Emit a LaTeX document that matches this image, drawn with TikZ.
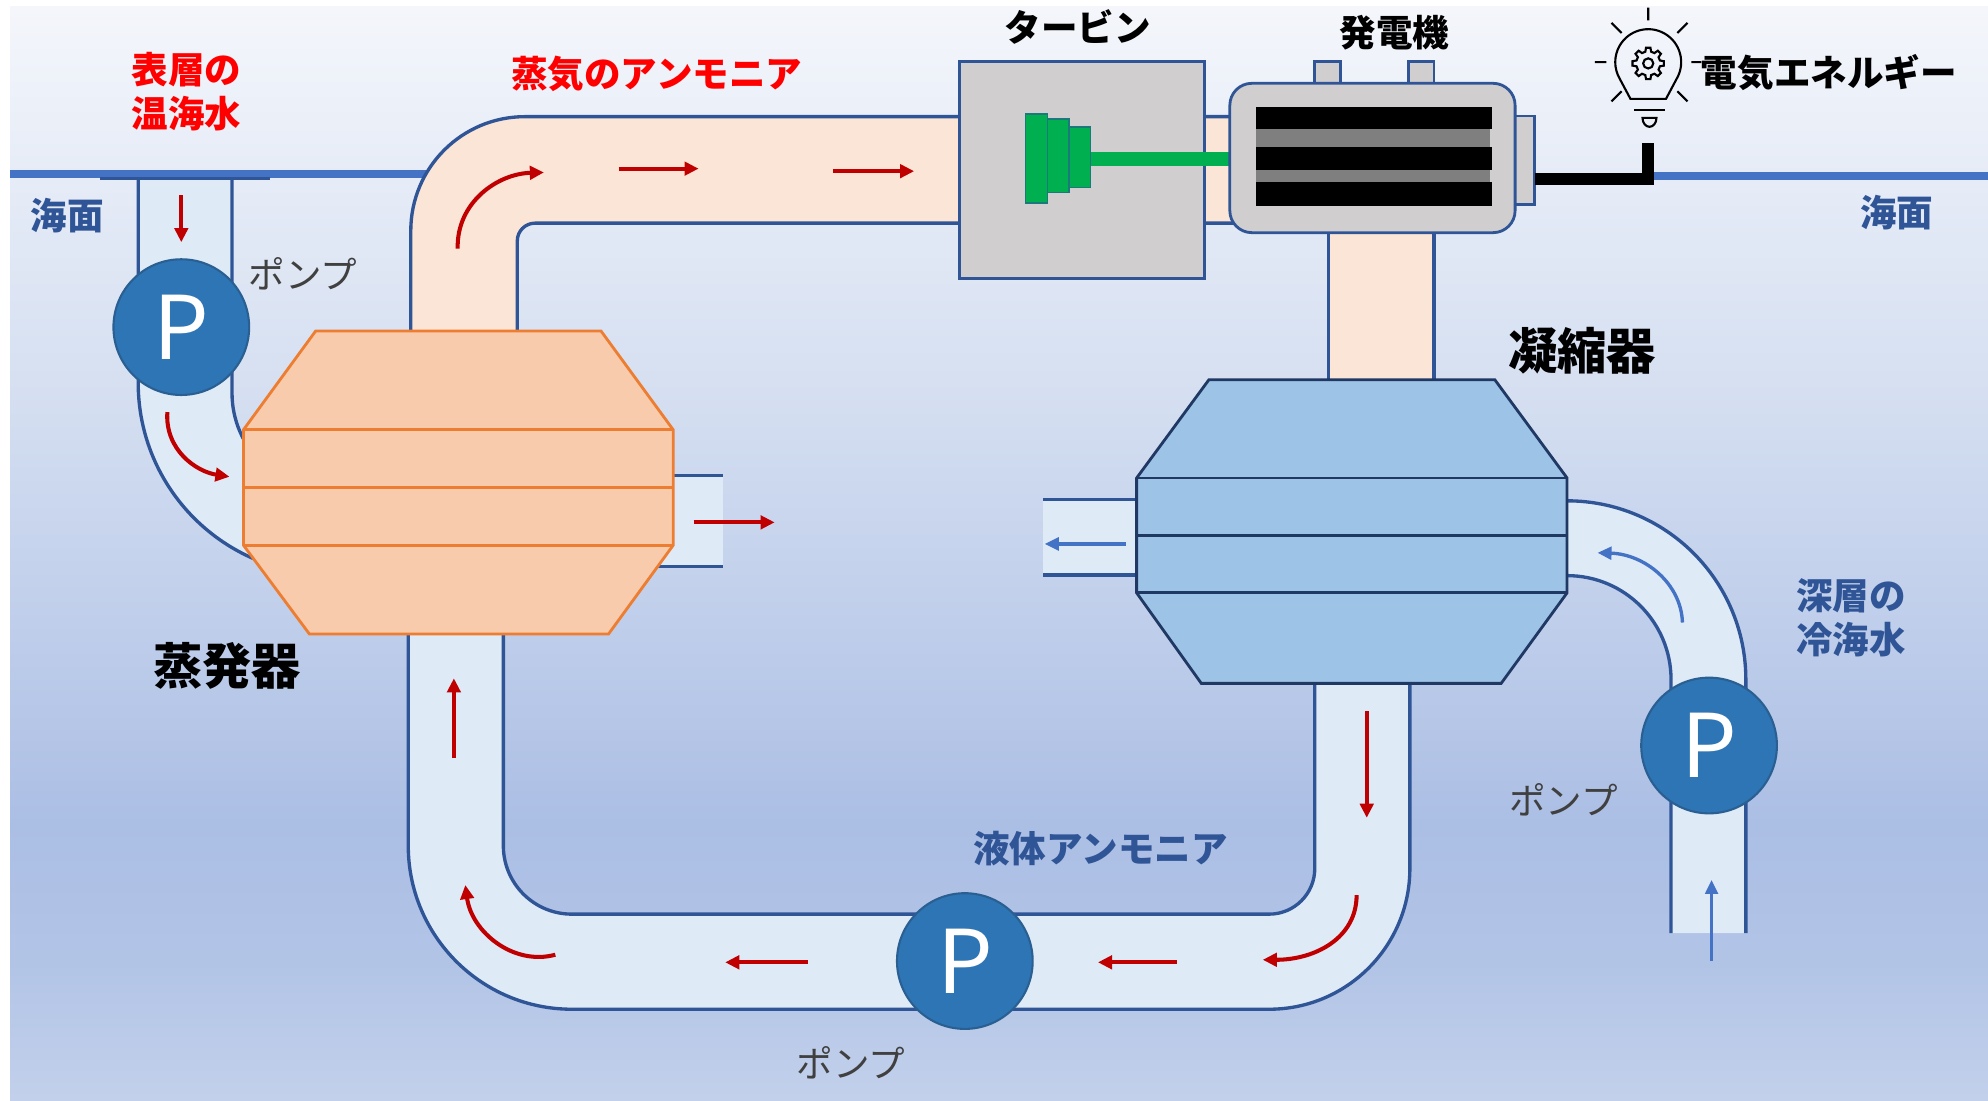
\documentclass[tikz,border=0pt]{standalone}
\usepackage{fontspec}
\setmainfont{Noto Sans CJK JP}
\usetikzlibrary{arrows.meta}

\definecolor{pipeblue}{HTML}{2F5597}
\definecolor{pipelight}{HTML}{DEEAF6}
\definecolor{steampeach}{HTML}{FBE5D6}
\definecolor{seablue}{HTML}{4472C4}
\definecolor{evapfill}{HTML}{F8CBAD}
\definecolor{evapline}{HTML}{ED7D31}
\definecolor{condfill}{HTML}{9DC3E6}
\definecolor{condline}{HTML}{203864}
\definecolor{pumpfill}{HTML}{2E75B6}
\definecolor{pumpline}{HTML}{2A5F92}
\definecolor{machgray}{HTML}{D0CECE}
\definecolor{rotorgreen}{HTML}{00B050}
\definecolor{bandgray}{HTML}{7F7F7F}
\definecolor{flowred}{HTML}{C00000}
\definecolor{labelred}{HTML}{FF0000}
\definecolor{labelblue}{HTML}{2F5597}
\definecolor{pumptext}{HTML}{404040}

% sky-to-deep-sea background
\pgfdeclareverticalshading{seabg}{100bp}{%
  rgb(0bp)=(0.761,0.816,0.922);
  rgb(25bp)=(0.761,0.816,0.922);
  rgb(31.3bp)=(0.698,0.769,0.902);
  rgb(37.6bp)=(0.671,0.745,0.894);
  rgb(46.3bp)=(0.745,0.804,0.918);
  rgb(57.9bp)=(0.839,0.878,0.945);
  rgb(67.4bp)=(0.902,0.925,0.969);
  rgb(75bp)=(0.957,0.965,0.984);
  rgb(100bp)=(0.957,0.965,0.984)}

\newcommand{\lblsz}{\fontsize{10.4pt}{12.6pt}\selectfont}
\newcommand{\bigsz}{\fontsize{14pt}{16pt}\selectfont}
\newcommand{\psz}{\fontsize{25pt}{25pt}\selectfont}

\begin{document}
\begin{tikzpicture}[x=0.01268cm, y=-0.01268cm,
  pipeedge/.style={draw=pipeblue, line width=0.95pt},
  coolfill/.style={fill=pipelight},
  hotfill/.style={fill=steampeach},
  sealine/.style={draw=seablue, line width=2.2pt},
  exchangerA/.style={fill=evapfill, draw=evapline, line width=0.8pt},
  exchangerB/.style={fill=condfill, draw=condline, line width=0.8pt},
  machine/.style={fill=machgray, draw=pipeblue, line width=0.8pt},
  rotor/.style={fill=rotorgreen, draw=pipeblue!60!rotorgreen, line width=0.4pt},
  pump/.style={circle, fill=pumpfill, draw=pumpline, line width=0.6pt,
    minimum size=1.357cm, inner sep=0pt, text=white, font=\psz},
  redflow/.style={draw=flowred, line width=1.15pt, -{Triangle[length=4pt,width=3.8pt]}},
  blueflow/.style={draw=seablue, line width=0.95pt, -{Triangle[length=4pt,width=3.6pt]}},
  redlbl/.style={text=labelred, font=\lblsz\bfseries, inner sep=0pt, align=center},
  bluelbl/.style={text=labelblue, font=\lblsz\bfseries, inner sep=0pt, align=center},
  blacklbl/.style={text=black, font=\lblsz\bfseries, inner sep=0pt},
  biglbl/.style={text=black, font=\bigsz\bfseries, inner sep=0pt},
  pumplbl/.style={text=pumptext, font=\lblsz, inner sep=0pt},
  bulb/.style={draw=black, line width=0.6pt},
]
\useasboundingbox (0,0) rectangle (1568,868);
\fill[white] (0,0) rectangle (1568,868);
\shade[shading=seabg] (8,5.5) rectangle (1568,868);

% ---- warm surface water intake ----
\fill[coolfill] (109,137) -- (109,302) arc[start angle=180,end angle=90,radius=151]
  -- (260,387) arc[start angle=90,end angle=180,radius=77] -- (183,137) -- cycle;
\draw[pipeedge] (109,137) -- (109,302) arc[start angle=180,end angle=90,radius=151];
\draw[pipeedge] (183,137) -- (183,310) arc[start angle=180,end angle=90,radius=77];

% warm water outlet
\fill[coolfill] (505,375) rectangle (570,447);
\draw[pipeedge] (520,375) -- (570,375) (510,447) -- (570,447);

% sea surface
\draw[sealine] (8,137.5) -- (345,137.5);
\draw[pipeedge] (79,141) -- (213,141);
\draw[sealine] (1300,139) -- (1568,139);

% ---- ammonia vapour line ----
\fill[hotfill] (324,261) -- (324,182) arc[start angle=180,end angle=270,radius=90]
  -- (980,92) -- (980,176) -- (422,176) arc[start angle=270,end angle=180,radius=14]
  -- (408,261) -- cycle;
\draw[pipeedge] (324,261) -- (324,182) arc[start angle=180,end angle=270,radius=90] -- (975,92);
\draw[pipeedge] (408,261) -- (408,190) arc[start angle=180,end angle=270,radius=14] -- (975,176);

\fill[hotfill] (1048,175) rectangle (1131,305);
\draw[pipeedge] (1048,180) -- (1048,300) (1131,180) -- (1131,300);

% ---- liquid ammonia loop ----
\fill[coolfill] (322,495) -- (322,667) arc[start angle=180,end angle=90,radius=129]
  -- (1001,796) arc[start angle=90,end angle=0,radius=111] -- (1112,535) -- (1037,535)
  -- (1037,685) arc[start angle=0,end angle=90,radius=36] -- (451,721)
  arc[start angle=90,end angle=180,radius=54] -- (397,495) -- cycle;
\draw[pipeedge] (322,500) -- (322,667) arc[start angle=180,end angle=90,radius=129]
  -- (1001,796) arc[start angle=90,end angle=0,radius=111] -- (1112,539);
\draw[pipeedge] (1037,539) -- (1037,685) arc[start angle=0,end angle=90,radius=36]
  -- (451,721) arc[start angle=90,end angle=180,radius=54] -- (397,500);

% ---- cold deep water ----
\fill[coolfill] (1230,395) -- (1236,395) arc[start angle=270,end angle=360,radius=141]
  -- (1377,736) -- (1318,736) -- (1318,536) arc[start angle=0,end angle=-90,radius=82]
  -- (1230,454) -- cycle;
\draw[pipeedge] (1236,395) arc[start angle=270,end angle=360,radius=141] -- (1377,736);
\draw[pipeedge] (1236,454) arc[start angle=270,end angle=360,radius=82] -- (1318,736);

\fill[coolfill] (823,394) rectangle (905,453.5);
\draw[pipeedge] (823,394) -- (897,394) (823,453.5) -- (897,453.5);

% ---- evaporator ----
\draw[exchangerA] (249,261) -- (474,261) -- (531,339) -- (531,430) -- (480,500)
  -- (244,500) -- (192,430) -- (192,339) -- cycle;
\draw[draw=evapline, line width=0.8pt] (192,339) -- (531,339) (192,384.5) -- (531,384.5)
  (192,430) -- (531,430);

% ---- condenser ----
\draw[exchangerB] (953.5,299.5) -- (1179,299.5) -- (1236,377) -- (1236,467.6) -- (1184,539)
  -- (947.5,539) -- (896.5,467.6) -- (896.5,377) -- cycle;
\draw[draw=condline, line width=0.8pt] (896.5,377) -- (1236,377) (896.5,422.6) -- (1236,422.6)
  (896.5,467.6) -- (1236,467.6);

% ---- turbine ----
\draw[machine] (757,48.6) rectangle (950,219.5);
\fill[rotorgreen] (858,120) rectangle (972,131);
\draw[rotor] (809,90) rectangle (826,160);
\draw[rotor] (826,94) rectangle (843,152);
\draw[rotor] (843,100) rectangle (860,148);

% ---- generator ----
\draw[machine] (1037,48.6) rectangle (1057,67);
\draw[machine] (1111,48.6) rectangle (1131,67);
\draw[machine] (1190,91.5) rectangle (1210.6,161);
\draw[machine, rounded corners=0.22cm] (970,65.7) rectangle (1195,183.5);
\fill[bandgray] (991,100) rectangle (1175,146);
\fill[black] (991,84.6) rectangle (1177,102);
\fill[black] (991,116) rectangle (1177,134);
\fill[black] (991,143.5) rectangle (1177,162.5);

% ---- pumps ----
\node[pump] (pumpwarm) at (143,258) {P};
\node[pump] (pumpcold) at (1348,588) {P};
\node[pump] (pumpliq) at (761,758) {P};

% ---- flow arrows ----
\draw[redflow] (143,154) -- (143,191);
\draw[redflow] (132,325) .. controls (130,355) and (155,372) .. (181,376);
\draw[redflow] (547,412) -- (611,412);
\draw[redflow] (361,196) .. controls (360,160) and (392,137) .. (429,136);
\draw[redflow] (488,133) -- (551,133);
\draw[redflow] (657,135) -- (721,135);
\draw[redflow] (1078,561) -- (1078,645);
\draw[redflow] (1070,706) .. controls (1070,740) and (1037,757) .. (996,757);
\draw[redflow] (928,759) -- (866,759);
\draw[redflow] (637,759) -- (572,759);
\draw[redflow] (438,753) .. controls (405,762) and (372,735) .. (367,698);
\draw[redflow] (358,598) -- (358,535);
\draw[blueflow] (888,429) -- (824,429);
\draw[blueflow] (1327,491) .. controls (1326,460) and (1297,437) .. (1260,436);
\draw[blueflow] (1350,758) -- (1350,694);

% ---- power output ----
\coordinate (cableA) at (1210.6,141);
\coordinate (cableB) at (1300,113);
\draw[black, line width=3.4pt] (cableA) -- (1300,141) -- (cableB);

\draw[bulb] (1314,78) -- (1322.5,62) arc[start angle=30,end angle=-210,radius=26] -- (1286,78) -- cycle;
\draw[bulb] (1289,87) -- (1313,87);
\draw[bulb] (1295.5,93) -- (1306.5,93) arc[start angle=0,end angle=180,x radius=5.5,y radius=7] -- cycle;
\draw[bulb, shift={(1300,50)}] (-14:9.5)
  \foreach \a in {0,45,...,315}{ -- (\a-14:9.5) -- (\a-8:12.5) -- (\a+8:12.5) -- (\a+14:9.5)} -- cycle;
\draw[bulb] (1300,50) circle[radius=4];
\draw[bulb] (1300,6) -- (1300,16) (1271,18) -- (1279,26) (1331,18) -- (1323,26)
  (1258,49) -- (1267,49) (1334,49) -- (1342,49) (1271,80) -- (1279,72) (1331,80) -- (1323,72);

% ---- labels ----
\node[redlbl] (warmlbl) at (147,72.5) {表層の\\温海水};
\node[redlbl] (steamlbl) at (518,58) {蒸気のアンモニア};
\node[blacklbl] (turblbl) at (850,21) {タービン};
\node[blacklbl] (genlbl) at (1100,26) {発電機};
\node[blacklbl, anchor=west] (powerlbl) at (1341,57) {電気エネルギー};
\node[biglbl] (condlbl) at (1248,277) {凝縮器};
\node[biglbl] (evaplbl) at (179,525) {蒸発器};
\node[bluelbl] (sealblL) at (53,170) {海面};
\node[bluelbl] (sealblR) at (1496,168) {海面};
\node[bluelbl] (coldlbl) at (1460,487) {深層の\\冷海水};
\node[bluelbl] (liqlbl) at (868,669) {液体アンモニア};
\node[pumplbl] (pumplblA) at (239,216) {ポンプ};
\node[pumplbl] (pumplblB) at (1233,631) {ポンプ};
\node[pumplbl] (pumplblC) at (671,838) {ポンプ};
\end{tikzpicture}
\end{document}
